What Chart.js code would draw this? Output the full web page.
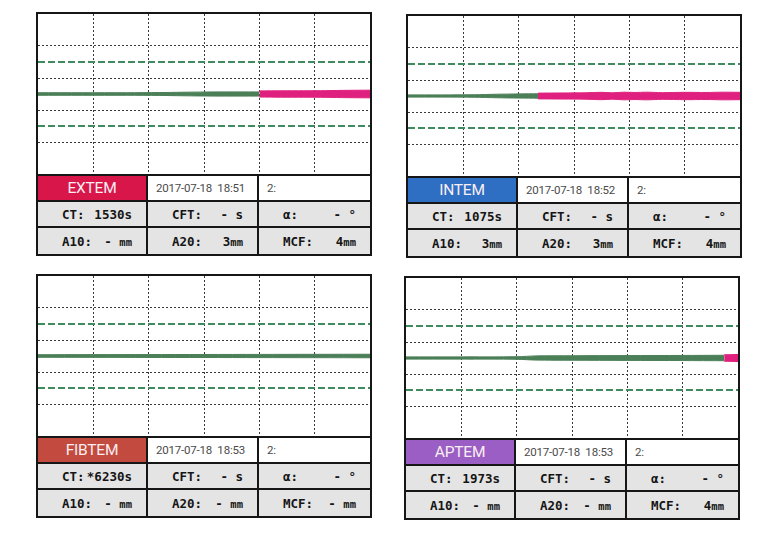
<!DOCTYPE html>
<html lang="en">
<head>
<meta charset="UTF-8" />
<title>ROTEM panels</title>
<script src="https://cdn.jsdelivr.net/npm/chart.js@4"></script>
<style>
  body { margin: 0; background: #fff; width: 771px; height: 539px; position: relative; overflow: hidden; }
  .panel { position: absolute; width: 336px; border: 2px solid #161616; box-sizing: border-box; background: #fff; }
  .plot { position: relative; height: 160px; }
  .tbl { display: grid; grid-template-columns: 110px 111px 111px; grid-template-rows: 26px 26px 26px; border-top: 2px solid #161616; }
  .tbl > div { border-right: 2px solid #161616; border-bottom: 2px solid #161616; display: flex; align-items: center; box-sizing: border-box; white-space: pre; overflow: hidden; }
  .tbl > div.last { border-right: none; }
  .tbl > div.bottom { border-bottom: none; }
  .name { justify-content: center; color: #fbeef2; font: 15.5px Roboto, sans-serif; letter-spacing: -0.2px; }
  .date { padding-left: 8px; color: #4a4a4a; font: 11.5px Roboto, sans-serif; letter-spacing: -0.2px; }
  .val { background: #e4e4e4; justify-content: space-between; padding: 0 14px 0 24px; font: bold 12.5px "DejaVu Sans Mono", monospace; color: #151515; }
  .u { font-size: 10.5px; color: #151515; }
</style>
</head>
<body>
<script>
  // test names, run times and results
  const tests = ['EXTEM', 'INTEM', 'FIBTEM', 'APTEM'];
  const testColors = ['#d8164a', '#2e6fc4', '#c24a3e', '#9a5ec4'];
  const runTimes = ['2017-07-18  18:51', '2017-07-18  18:52', '2017-07-18  18:53', '2017-07-18  18:53'];
  const ctValues = ['1530s', '1075s', '*6230s', '1973s'];
  const cftValues = ['-', '-', '-', '-'];
  const alphaValues = ['-', '-', '-', '-'];
  const a10Values = ['-', '3', '-', '-'];
  const a20Values = ['3', '3', '-', '-'];
  const mcfValues = ['4', '4', '-', '4'];

  // reference lines (mm)
  const refLines = [20, -20];

  // traces: time (min) and half amplitude (mm)
  const extemGreenT = [0, 8, 16, 22, 26, 32, 40];
  const extemGreenA = [0.8, 0.8, 0.8, 0.9, 1.1, 1.3, 1.3];
  const extemPinkT = [40, 44, 48, 52, 56, 60];
  const extemPinkA = [1.9, 2.0, 2.0, 2.1, 2.3, 2.4];

  const intemGreenT = [0, 6, 12, 16, 20, 23.5];
  const intemGreenA = [0.7, 0.7, 0.8, 1.1, 1.3, 1.4];
  const intemPinkT = [23.5, 28, 32, 35, 37, 39, 41, 43, 46, 50, 54, 57, 60];
  const intemPinkA = [1.8, 1.9, 2.0, 2.3, 2.0, 2.4, 2.2, 2.4, 2.1, 2.3, 2.2, 2.4, 2.3];

  const fibtemGreenT = [0, 20, 40, 60];
  const fibtemGreenA = [0.8, 0.9, 1.0, 1.1];
  const fibtemPinkT = [];
  const fibtemPinkA = [];

  const aptemGreenT = [0, 10, 20, 23.5, 30, 40, 50, 57.5];
  const aptemGreenA = [0.7, 0.7, 0.8, 1.3, 1.4, 1.5, 1.6, 1.7];
  const aptemPinkT = [57.5, 60];
  const aptemPinkA = [2.0, 2.2];

  const traces = [
    [extemGreenT, extemGreenA, extemPinkT, extemPinkA],
    [intemGreenT, intemGreenA, intemPinkT, intemPinkA],
    [fibtemGreenT, fibtemGreenA, fibtemPinkT, fibtemPinkA],
    [aptemGreenT, aptemGreenA, aptemPinkT, aptemPinkA]
  ];

  const panelPos = [[36, 12], [406, 14], [36, 274], [404, 276]];

  const green = '#4b7f57';
  const pink = '#e0207e';

  function fmt(v, unit) {
    return v === '-' ? '- ' + unit : v + unit;
  }

  // filled band between +a and -a
  function band(t, a, color) {
    const common = { borderColor: color, backgroundColor: color, borderWidth: 1, pointRadius: 0, tension: 0.3 };
    return [
      Object.assign({ data: t.map((x, i) => ({ x, y: a[i] })), fill: false }, common),
      Object.assign({ data: t.map((x, i) => ({ x, y: -a[i] })), fill: '-1' }, common)
    ];
  }

  const mm = '<span class="u">mm</span>';

  tests.forEach((name, k) => {
    const panel = document.createElement('div');
    panel.className = 'panel';
    panel.style.left = panelPos[k][0] + 'px';
    panel.style.top = panelPos[k][1] + 'px';
    panel.innerHTML =
      '<div class="plot"><canvas></canvas></div>' +
      '<div class="tbl">' +
      '<div class="name" style="background:' + testColors[k] + '">' + name + '</div>' +
      '<div class="date">' + runTimes[k] + '</div>' +
      '<div class="date last">2:</div>' +
      '<div class="val"><span>CT:</span><span>' + ctValues[k] + '</span></div>' +
      '<div class="val"><span>CFT:</span><span>' + fmt(cftValues[k], 's') + '</span></div>' +
      '<div class="val last"><span>α:</span><span>' + fmt(alphaValues[k], '°') + '</span></div>' +
      '<div class="val bottom"><span>A10:</span><span>' + fmt(a10Values[k], mm) + '</span></div>' +
      '<div class="val bottom"><span>A20:</span><span>' + fmt(a20Values[k], mm) + '</span></div>' +
      '<div class="val bottom last"><span>MCF:</span><span>' + fmt(mcfValues[k], mm) + '</span></div>' +
      '</div>';
    document.body.appendChild(panel);

    const [gT, gA, pT, pA] = traces[k];
    const datasets = refLines.map(y => ({
      data: [{ x: 0, y }, { x: 60, y }],
      borderColor: '#3f8a5e', borderWidth: 2.2, borderDash: [7, 3], pointRadius: 0, fill: false
    }));
    datasets.push(...band(gT, gA, green));
    if (pT.length) datasets.push(...band(pT, pA, pink));

    const edge = (v, lo, hi) => (v === lo || v === hi) ? 'rgba(0,0,0,0)' : '#3a3a3a';
    new Chart(panel.querySelector('canvas'), {
      type: 'line',
      data: { datasets },
      options: {
        responsive: true,
        maintainAspectRatio: false,
        animation: false,
        layout: { padding: 0 },
        plugins: { legend: { display: false }, tooltip: { enabled: false } },
        scales: {
          x: {
            type: 'linear', min: 0, max: 60,
            ticks: { display: false, stepSize: 10 },
            grid: { drawTicks: false, lineWidth: 1, color: c => edge(c.tick && c.tick.value, 0, 60) },
            border: { display: false, dash: [2, 2] }
          },
          y: {
            min: -50, max: 50,
            ticks: { display: false, stepSize: 20 },
            grid: { drawTicks: false, lineWidth: 1, color: c => edge(c.tick && c.tick.value, -50, 50) },
            border: { display: false, dash: [2, 2] }
          }
        }
      }
    });
  });
</script>
</body>
</html>
